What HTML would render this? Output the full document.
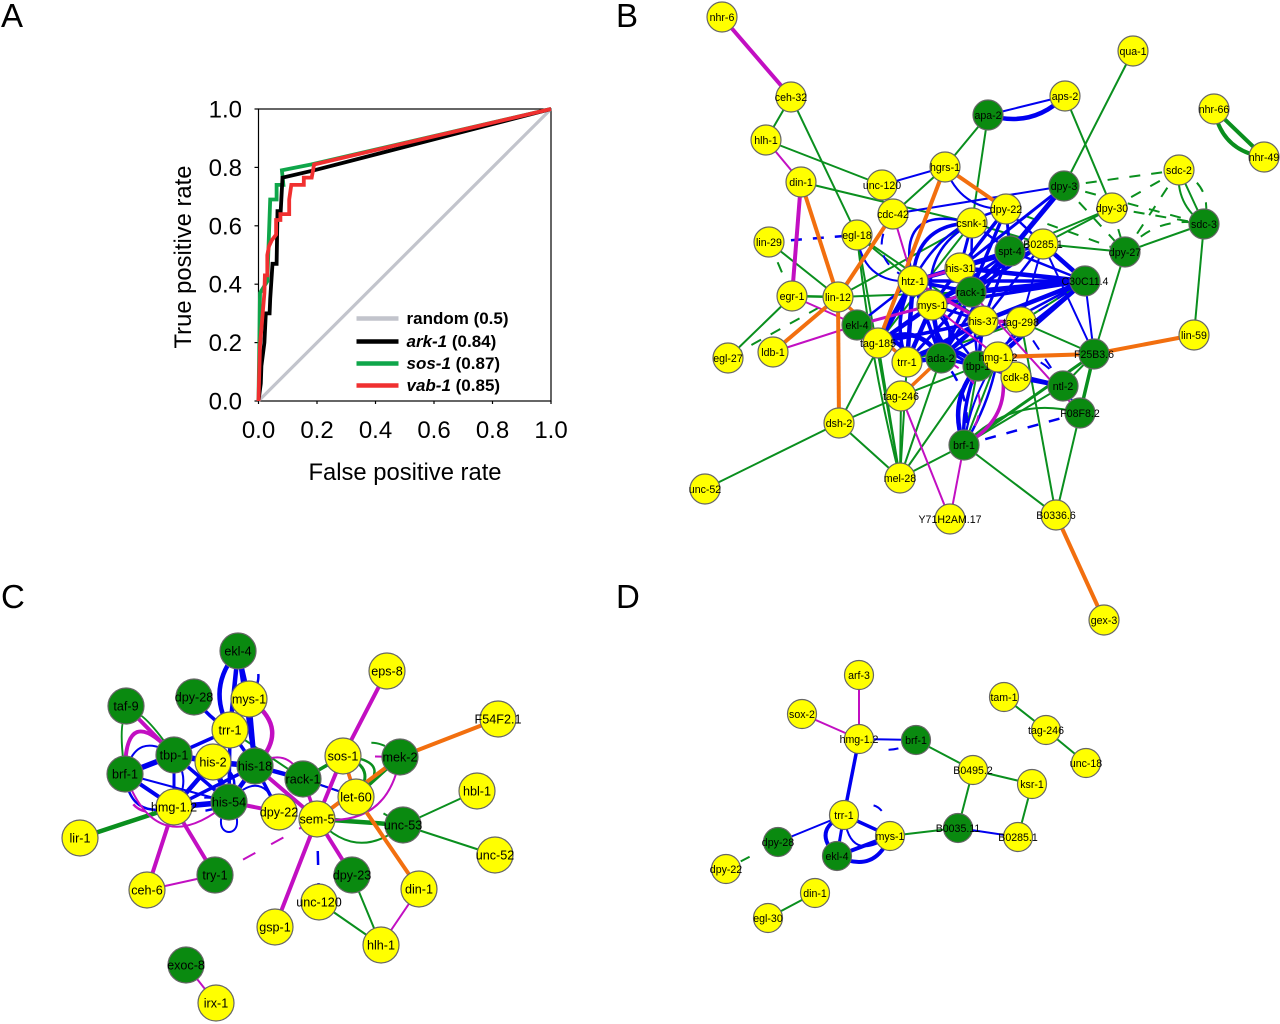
<!DOCTYPE html>
<html lang="en">
<head>
<meta charset="utf-8">
<title>ROC curves and interaction networks</title>
<style>
html,body{margin:0;padding:0;background:#fff;width:1280px;height:1024px;overflow:hidden}
svg{display:block;font-family:"Liberation Sans",Arial,sans-serif}
</style>
</head>
<body>
<svg id="figure" xmlns="http://www.w3.org/2000/svg" width="1280" height="1024" viewBox="0 0 1280 1024">
  <text x="1" y="27" font-size="33">A</text>
  <text x="616" y="27" font-size="33">B</text>
  <text x="1" y="608" font-size="33">C</text>
  <text x="616" y="608" font-size="33">D</text>
  <g id="roc"></g>
  <g id="netB"></g>
  <g id="netC"></g>
  <g id="netD"></g>
</svg>
<script>
/* ---------- ROC chart data ---------- */
const tickLabels = ["0.0","0.2","0.4","0.6","0.8","1.0"];
const tickValues = [0,0.2,0.4,0.6,0.8,1];
const randomFpr = [0,1];
const randomTpr = [0,1];
const arkFpr = [0,0.008,0.01,0.02,0.025,0.038,0.04,0.048,0.062,0.065,0.076,0.082,0.19,1];
const arkTpr = [0,0.06,0.12,0.2,0.3,0.3,0.35,0.47,0.47,0.65,0.65,0.765,0.79,1];
const sosFpr = [0,0.005,0.03,0.04,0.062,0.062,0.085,0.08,0.18,1];
const sosTpr = [0,0.37,0.41,0.69,0.69,0.74,0.74,0.79,0.81,1];
const vabFpr = [0,0.005,0.02,0.022,0.03,0.03,0.036,0.045,0.06,0.06,0.075,0.075,0.105,0.105,0.112,0.155,0.155,0.182,0.19,1];
const vabTpr = [0,0.19,0.37,0.43,0.43,0.5,0.53,0.55,0.57,0.62,0.62,0.64,0.64,0.69,0.74,0.74,0.765,0.765,0.81,1];
const rocSeriesNames = ["random","ark-1","sos-1","vab-1"];
const rocSeriesAuc = ["(0.5)","(0.84)","(0.87)","(0.85)"];

/* ---------- Network data: "label x y colour" (y yellow, g green) ---------- */
const nodesB = ["nhr-6 722 17 y","ceh-32 791 97 y","hlh-1 766 140 y","din-1 801 182 y","unc-120 882 185 y","hgrs-1 945 167 y","cdc-42 893 214 y","egl-18 857 235 y","lin-29 769 242 y","egr-1 792 296 y","lin-12 838 297 y","ldb-1 773 352 y","egl-27 728 358 y","csnk-1 972 223 y","dpy-22 1006 209 y","dpy-3 1064 186 g","apa-2 988 115 g","aps-2 1065 96 y","qua-1 1133 51 y","nhr-66 1214 109 y","nhr-49 1264 157 y","sdc-2 1179 170 y","sdc-3 1204 224 g","dpy-30 1112 208 y","dpy-27 1125 252 g","spt-4 1010 251 g","B0285.1 1043 244 y","C30C11.4 1085 281 g","his-31 960 268 y","htz-1 913 281 y","rack-1 971 292 g","ekl-4 857 325 g","mys-1 932 305 y","his-37 983 321 y","tag-298 1021 322 y","tag-185 878 343 y","trr-1 907 362 y","ada-2 941 358 g","tbp-1 978 366 g","cdk-8 1016 377 y","hmg-1.2 998 357 y","F25B3.6 1094 354 g","lin-59 1194 335 y","ntl-2 1063 386 g","F08F8.2 1080 413 g","tag-246 901 396 y","dsh-2 839 423 y","brf-1 964 445 g","mel-28 900 478 y","unc-52 705 489 y","Y71H2AM.17 950 519 y","B0336.6 1056 515 y","gex-3 1104 620 y"];
const nodesC = ["ekl-4 238 651 g","dpy-28 194 697 g","mys-1 249 699 y","taf-9 126 706 g","trr-1 230 730 y","tbp-1 174 755 g","his-2 213 762 y","his-18 255 766 g","brf-1 125 774 g","rack-1 303 779 g","his-54 229 802 g","hmg-1.2 174 807 y","dpy-22 279 812 y","lir-1 80 838 y","try-1 215 875 g","ceh-6 147 890 y","eps-8 387 671 y","F54F2.1 498 719 y","sos-1 343 756 y","mek-2 400 757 g","let-60 356 797 y","sem-5 317 819 y","unc-53 403 825 g","hbl-1 477 791 y","unc-52 495 855 y","dpy-23 352 875 g","din-1 419 889 y","unc-120 319 902 y","hlh-1 381 945 y","gsp-1 275 927 y","exoc-8 186 965 g","irx-1 216 1003 y"];
const nodesD = ["arf-3 859 675 y","sox-2 802 714 y","hmg-1.2 859 739 y","brf-1 916 740 g","tam-1 1004 697 y","tag-246 1046 730 y","unc-18 1086 763 y","B0495.2 973 770 y","ksr-1 1032 784 y","trr-1 844 815 y","mys-1 890 836 y","B0035.11 958 828 g","B0285.1 1018 837 y","dpy-28 778 842 g","ekl-4 837 856 g","dpy-22 726 869 y","din-1 815 893 y","egl-30 768 918 y"];

/* Edges: "from>to:width:curvature:d(ashed)" */
const greenB = ["ceh-32>hlh-1:1.5","ceh-32>egl-18:1.5","hlh-1>unc-120:1.5","din-1>csnk-1:1.5","hgrs-1>cdc-42:1.5","hgrs-1>apa-2:1.5","apa-2>csnk-1:1.5","qua-1>dpy-3:1.5","aps-2>dpy-30:1.5","lin-29>lin-12:1.5","lin-29>egr-1:1.5:0:d","egr-1>lin-12:2","egr-1>egl-27:1.5","lin-12>egl-27:1.5:0:d","lin-12>rack-1:1.5","lin-12>csnk-1:1.5","egl-18>his-37:1.5","egl-18>htz-1:1.5","egl-18>mel-28:1.5","egl-18>mel-28:1.5:0.03","dsh-2>tag-246:1.5","dsh-2>htz-1:1.5","dsh-2>unc-52:1.5","dsh-2>mel-28:1.5","mel-28>tag-246:1.5","mel-28>trr-1:1.5","mel-28>tag-185:1.5","mel-28>ada-2:1.5","mel-28>brf-1:1.5","mel-28>tbp-1:1.5","tag-246>tbp-1:1.5","brf-1>B0336.6:1.5","brf-1>F25B3.6:2.5","brf-1>ntl-2:1.5","brf-1>hmg-1.2:1.5","brf-1>tbp-1:1.5","brf-1>F08F8.2:1.5:-0.25","B0336.6>F08F8.2:1.5","B0336.6>tag-298:1.5","F25B3.6>F08F8.2:3","F25B3.6>ntl-2:1.5","F25B3.6>dpy-27:1.5","F25B3.6>tag-298:1.5","F25B3.6>hmg-1.2:1.5","tag-298>C30C11.4:1.5","csnk-1>B0285.1:1.5","csnk-1>spt-4:1.5","B0285.1>dpy-27:1.5","B0285.1>dpy-30:1.5","spt-4>dpy-30:1.5","dpy-27>sdc-3:1.5","sdc-3>lin-59:1.5","sdc-2>sdc-3:1.5","sdc-2>sdc-3:1.5:0.25","nhr-66>nhr-49:3.5","nhr-66>nhr-49:3.5:0.3","dpy-3>sdc-2:1.5:0:d","dpy-3>sdc-3:1.5:0:d","dpy-3>dpy-27:1.5:0:d","dpy-30>sdc-2:1.5:0:d","dpy-30>sdc-3:1.5:0:d","dpy-30>dpy-27:1.5:0:d","dpy-22>dpy-27:1.5:0:d","dpy-27>sdc-3:1.5:-0.25:d","dpy-27>sdc-2:1.5:0:d","sdc-2>sdc-3:1.5:-0.35:d","htz-1>his-31:2.5","htz-1>rack-1:2","ada-2>his-37:1.5","trr-1>tag-298:1.5","tag-185>csnk-1:1.5"];
const blueB = ["apa-2>aps-2:1.5","apa-2>aps-2:4:0.25","unc-120>hgrs-1:1.5","cdc-42>dpy-3:1.5","hgrs-1>dpy-22:1.5:0.3","lin-29>egl-18:2:0:d","unc-120>cdc-42:1.5:0.5:d","cdc-42>htz-1:1.5:0.5:d","egl-18>htz-1:1.5:0.4","dpy-3>spt-4:4.5","dpy-3>his-31:2.5","dpy-22>his-31:3","dpy-22>spt-4:2.5","dpy-22>rack-1:3","dpy-22>htz-1:2:0.2","dpy-22>B0285.1:2","csnk-1>his-31:2.5","csnk-1>rack-1:2","csnk-1>htz-1:3:0.4","csnk-1>htz-1:2:0.7","csnk-1>mys-1:2:0.3","csnk-1>spt-4:2","spt-4>his-31:4","spt-4>rack-1:4","spt-4>htz-1:3","spt-4>mys-1:2.5","spt-4>C30C11.4:2","spt-4>his-37:2.5","spt-4>ada-2:2.5","B0285.1>C30C11.4:4","B0285.1>his-31:3","B0285.1>rack-1:3","B0285.1>mys-1:2","B0285.1>his-37:2","B0285.1>tag-298:1.5","B0285.1>F25B3.6:1.5","C30C11.4>his-31:4","C30C11.4>rack-1:5","C30C11.4>htz-1:3","C30C11.4>his-37:4","C30C11.4>mys-1:3","C30C11.4>tag-298:1.5:0:d","C30C11.4>F25B3.6:1.5","C30C11.4>hmg-1.2:4","C30C11.4>tbp-1:2","C30C11.4>ada-2:2","his-31>htz-1:4","his-31>rack-1:3","his-31>mys-1:3","rack-1>htz-1:3","rack-1>his-37:3","rack-1>mys-1:3","rack-1>ada-2:3","rack-1>trr-1:2.5","rack-1>tbp-1:2","htz-1>mys-1:3","htz-1>trr-1:4","htz-1>trr-1:3:0.2","htz-1>ada-2:3","htz-1>tag-185:5","htz-1>ekl-4:2","htz-1>tbp-1:2","mys-1>trr-1:4","mys-1>ada-2:4","mys-1>ada-2:2:-0.4","mys-1>tbp-1:2.5:0.3","mys-1>tag-185:4","mys-1>his-37:2.5","his-37>ada-2:4","his-37>trr-1:4","his-37>tbp-1:3","his-37>tag-185:3","his-37>tag-298:2","tag-298>hmg-1.2:2","tag-298>ntl-2:1.5:0:d","tag-185>trr-1:4:-0.5","tag-185>ada-2:4:-0.4","trr-1>ada-2:4","trr-1>tbp-1:4:-0.35","ada-2>tbp-1:3","ekl-4>tag-185:2","tbp-1>hmg-1.2:3","tbp-1>cdk-8:2","tbp-1>ntl-2:3","hmg-1.2>F25B3.6:2","cdk-8>ntl-2:4","hmg-1.2>ntl-2:1.5:-0.3:d","brf-1>tbp-1:4:-0.25","brf-1>tbp-1:3:-0.1","brf-1>hmg-1.2:1.5:-0.1","brf-1>hmg-1.2:2:0.08","brf-1>F08F8.2:2:0:d","brf-1>ada-2:2:0.22:d","ntl-2>F08F8.2:1.5"];
const magentaB = ["nhr-6>ceh-32:3.5","hlh-1>din-1:1.5","din-1>egr-1:3.5","cdc-42>htz-1:1.5","egr-1>ekl-4:1.5","ldb-1>ekl-4:1.5","ekl-4>mys-1:2.5","tag-246>Y71H2AM.17:1.5","brf-1>Y71H2AM.17:1.5","mys-1>rack-1:2.5","htz-1>his-31:2.5","rack-1>his-37:3","his-37>tag-298:3","htz-1>his-37:3","rack-1>F08F8.2:1.5","mys-1>hmg-1.2:1.5","brf-1>hmg-1.2:3:0.35","brf-1>ada-2:1.5:0.5:d"];
const orangeB = ["din-1>lin-12:3.5","hgrs-1>tag-185:3.5","hgrs-1>dpy-22:3.5","cdc-42>lin-12:3.5","lin-12>ldb-1:3.5","lin-12>dsh-2:3.5","lin-12>trr-1:3","tag-246>ada-2:3","F25B3.6>lin-59:3.5","hmg-1.2>F25B3.6:3.5","B0336.6>gex-3:3.5"];

const greenC = ["hmg-1.2>lir-1:4","brf-1>tbp-1:1.5:-1.8","tbp-1>trr-1:1.5","trr-1>rack-1:1.5","dpy-28>trr-1:1.5:0:d","rack-1>sos-1:3","sos-1>let-60:2.5:-0.6","sos-1>let-60:2:-1","rack-1>let-60:1.5","sem-5>mek-2:2.5","let-60>mek-2:2.5","sem-5>unc-53:4","let-60>unc-53:1.5:0:d","sem-5>unc-53:1.5:0.4","unc-53>hbl-1:1.5","unc-53>unc-52:1.5","dpy-23>hlh-1:1.5","unc-120>hlh-1:1.5","sem-5>dpy-23:1.5:0:d","sos-1>mek-2:1.5:-0.4:d"];
const blueC = ["ekl-4>trr-1:4","ekl-4>trr-1:4:0.3","ekl-4>mys-1:4","ekl-4>his-18:3","ekl-4>mys-1:2:-0.5:d","dpy-28>trr-1:3:0.1","mys-1>his-18:4","trr-1>his-2:4","trr-1>his-18:3","trr-1>tbp-1:3","trr-1>his-54:3","tbp-1>his-2:5","tbp-1>his-54:3","tbp-1>hmg-1.2:2.5","tbp-1>brf-1:5","tbp-1>his-18:2","his-2>his-18:5","his-2>his-54:5","his-2>hmg-1.2:4","his-18>his-54:4","his-18>hmg-1.2:3","his-18>rack-1:4","his-18>dpy-22:3","his-54>hmg-1.2:5","his-54>dpy-22:1.5:0:d","his-54>his-2:2:0.5","brf-1>hmg-1.2:3.5","brf-1>hmg-1.2:2:0.5","brf-1>his-54:1.5","tbp-1>brf-1:1.5:0.6","his-54>his-54:1.5","hmg-1.2>his-54:2:0.2:d","hmg-1.2>his-54:1.5:-0.2:d","his-54>dpy-22:1.5:-0.7","rack-1>let-60:1.5","sem-5>unc-120:2:0:d","tbp-1>hmg-1.2:1.5:-0.3"];
const magentaC = ["taf-9>tbp-1:3.5","brf-1>tbp-1:3.5:-1.1","mys-1>his-18:4:-0.5","hmg-1.2>ceh-6:3.5","hmg-1.2>try-1:3.5","ceh-6>try-1:1.5","try-1>sem-5:1.5:0:d","dpy-22>his-54:3.5","his-18>sem-5:3.5","his-18>rack-1:1.5:-0.5","brf-1>his-54:1.5:0.6","brf-1>hmg-1.2:2:0.6:d","rack-1>sem-5:3","eps-8>sos-1:3.5","sos-1>sem-5:3.5","sem-5>gsp-1:3.5","sem-5>dpy-23:3.5","sos-1>let-60:3","din-1>hlh-1:1.5","sem-5>mek-2:1.5:0.4","sos-1>mek-2:1.5:0:d","sem-5>dpy-22:1.5:0:d"];
const orangeC = ["mek-2>F54F2.1:3.5","let-60>din-1:3.5","sem-5>mek-2:3.5","sos-1>let-60:3"];
const loneC = ["exoc-8>irx-1:1.5"];

const greenD = ["brf-1>B0495.2:1.5","B0495.2>ksr-1:1.5","B0495.2>B0035.11:1.5","ksr-1>B0285.1:1.5","mys-1>B0035.11:1.5","tam-1>tag-246:1.5","tag-246>unc-18:1.5","din-1>egl-30:1.5","dpy-28>dpy-22:1.5:0:d"];
const blueD = ["hmg-1.2>brf-1:1.5","hmg-1.2>brf-1:1.5:0.3:d","hmg-1.2>trr-1:3","trr-1>dpy-28:1.5","trr-1>ekl-4:2.5","trr-1>ekl-4:3.5:0.6","trr-1>mys-1:3","ekl-4>mys-1:3.5","ekl-4>mys-1:3.5:0.45","trr-1>mys-1:1.5:0.7","trr-1>mys-1:1.5:-0.7:d","B0035.11>B0285.1:1.5"];
const magentaD = ["arf-3>hmg-1.2:1.5","sox-2>hmg-1.2:1.5"];

/* ---------- Colours ---------- */
const SVGNS = "http://www.w3.org/2000/svg";
const COL = {green:"#0a8f1e",blue:"#0000f0",magenta:"#c20fc2",orange:"#f26f0f"};
const FILL = {y:"#ffff00",g:"#0a8a10"};

function make(tag, parent, attrs){
  const el = document.createElementNS(SVGNS, tag);
  for(const k in attrs){ el.setAttribute(k, attrs[k]); }
  parent.appendChild(el);
  return el;
}

/* ---------- ROC chart ---------- */
const roc = document.getElementById("roc");
const X0 = 258.5, X1 = 551, Y0 = 401, Y1 = 109;
function xAxis(v){ return X0 + (X1 - X0) * v; }
function yAxis(v){ return Y0 - (Y0 - Y1) * v; }
function linePoints(fx, fy){ return fx.map((v,i)=>xAxis(v).toFixed(1)+","+yAxis(fy[i]).toFixed(1)).join(" "); }

const plotBox = make("rect", roc, {x:xAxis(0),y:yAxis(1),width:xAxis(1)-xAxis(0),height:yAxis(0)-yAxis(1),fill:"none",stroke:"#000","stroke-width":1.2});



tickValues.forEach((v,i)=>{
  const xt = make("line", roc, {x1:xAxis(v),x2:xAxis(v),y1:Y0,y2:Y0+3,stroke:"#000","stroke-width":1.2});
  
  
  const yt = make("line", roc, {x1:X0-4,x2:X0,y1:yAxis(v),y2:yAxis(v),stroke:"#000","stroke-width":1.2});
  
  
  const xl = make("text", roc, {x:xAxis(v),y:438,"text-anchor":"middle","font-size":24});
  xl.textContent = tickLabels[i];
  
  
  const yl = make("text", roc, {x:242,y:yAxis(v)+8.5,"text-anchor":"end","font-size":24});
  yl.textContent = tickLabels[i];
  
  
});

const xTitle = make("text", roc, {x:405,y:480,"text-anchor":"middle","font-size":23.8});
xTitle.textContent = "False positive rate";


const yTitle = make("text", roc, {transform:"translate(191,257) rotate(-90)","text-anchor":"middle","font-size":23.8});
yTitle.textContent = "True positive rate";



const rocFpr = [randomFpr, arkFpr, sosFpr, vabFpr];
const rocTpr = [randomTpr, arkTpr, sosTpr, vabTpr];
const rocColors = ["#c2c4cc","#000000","#0fa64a","#f03030"];
const rocDrawOrder = [0,2,1,3];
rocDrawOrder.forEach(i=>{
  const pl = make("polyline", roc, {points:linePoints(rocFpr[i],rocTpr[i]),fill:"none",stroke:rocColors[i],"stroke-width":i===0?3.2:3.8,"stroke-linejoin":"miter"});
  
  
});

const legendBaselines = [324,347,369,391];
rocSeriesNames.forEach((n,i)=>{
  const ly = legendBaselines[i];
  const sw = make("line", roc, {x1:356.5,x2:398.5,y1:ly-5.5,y2:ly-5.5,stroke:rocColors[i],"stroke-width":4.5});
  
  
  const t = make("text", roc, {x:406.5,y:ly,"font-size":17,"font-weight":"bold"});
  const s = make("tspan", t, {"font-style":i===0?"normal":"italic"});
  s.textContent = n;
  const s2 = make("tspan", t, {});
  s2.textContent = " "+rocSeriesAuc[i];
  
  
});

/* ---------- Networks ---------- */
function drawNetwork(groupId, nodes, edgeSets, radius, fontSize, dash){
  const g = document.getElementById(groupId);
  const pos = {};
  nodes.forEach(s=>{ const p = s.split(" "); pos[p[0]] = {x:+p[1],y:+p[2],c:p[3]}; });
  edgeSets.forEach(set=>{
    set.list.forEach(e=>{
      const parts = e.split(":");
      const ends = parts[0].split(">");
      const a = pos[ends[0]], b = pos[ends[1]];
      const w = (+parts[1] || 1.5) + 0.5, cv = +parts[2] || 0, dashed = parts[3] === "d";
      const mx = (a.x+b.x)/2, my = (a.y+b.y)/2, dx = b.x-a.x, dy = b.y-a.y;
      let d;
      if(dx === 0 && dy === 0){
        d = "M"+a.x+" "+a.y+"C"+(a.x-28)+" "+(a.y+40)+" "+(a.x+28)+" "+(a.y+40)+" "+a.x+" "+a.y;
      } else {
        const cx = mx - dy*cv*1.2, cy = my + dx*cv*1.2;
        d = "M"+a.x+" "+a.y+"Q"+cx.toFixed(1)+" "+cy.toFixed(1)+" "+b.x+" "+b.y;
      }
      const path = make("path", g, {d:d,fill:"none",stroke:COL[set.color],"stroke-width":w});
      if(dashed){ path.setAttribute("stroke-dasharray", dash); }
      
      
    });
  });
  nodes.forEach(s=>{
    const p = s.split(" ");
    const c = make("circle", g, {cx:p[1],cy:p[2],r:radius,fill:FILL[p[3]],stroke:"#666","stroke-width":1.2});
    
    
  });
  nodes.forEach(s=>{
    const p = s.split(" ");
    const t = make("text", g, {x:p[1],y:+p[2]+fontSize*0.36,"text-anchor":"middle","font-size":fontSize,fill:"#000"});
    t.textContent = p[0];
    
    
  });
}

drawNetwork("netB", nodesB, [
  {color:"green",list:greenB},{color:"blue",list:blueB},{color:"magenta",list:magentaB},{color:"orange",list:orangeB}
], 15, 10.6, "11 11");
drawNetwork("netC", nodesC, [
  {color:"green",list:greenC},{color:"blue",list:blueC},{color:"magenta",list:magentaC},{color:"orange",list:orangeC},{color:"magenta",list:loneC}
], 18, 12.6, "14 18");
drawNetwork("netD", nodesD, [
  {color:"green",list:greenD},{color:"blue",list:blueD},{color:"magenta",list:magentaD}
], 14.5, 10.6, "10 22");
</script>
</body>
</html>
